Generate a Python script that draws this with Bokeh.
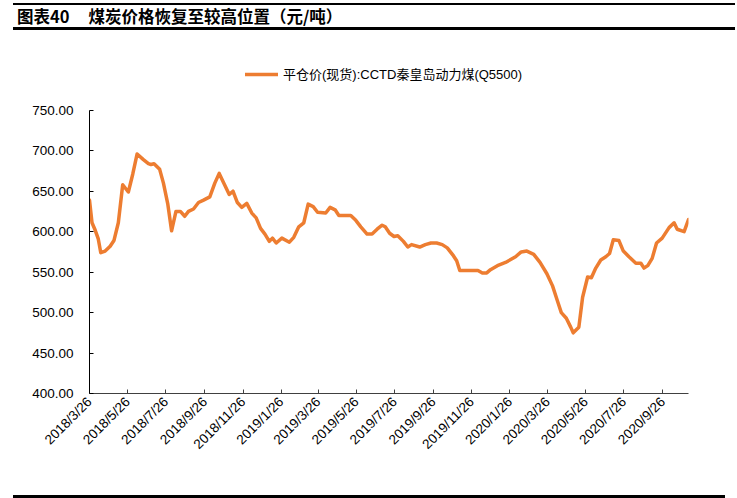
import pandas as pd
from bokeh.plotting import figure
from bokeh.layouts import column
from bokeh.models import (ColumnDataSource, Range1d, FixedTicker, NumeralTickFormatter,
                          Legend, LegendItem, Div)
from bokeh.embed import file_html
from bokeh.resources import INLINE

# texts
title_tag = "图表40"
title_text = "煤炭价格恢复至较高位置（元/吨）"
series_name = "平仓价(现货):CCTD秦皇岛动力煤(Q5500)"

# data
dates = [
    "2018-03-26", "2018-03-30", "2018-04-04", "2018-04-09", "2018-04-13", "2018-04-20",
    "2018-04-28", "2018-05-04", "2018-05-11", "2018-05-18", "2018-05-27", "2018-06-03",
    "2018-06-10", "2018-06-20", "2018-06-28", "2018-07-02", "2018-07-07", "2018-07-16",
    "2018-07-22", "2018-07-29", "2018-08-04", "2018-08-11", "2018-08-18", "2018-08-25",
    "2018-08-31", "2018-09-08", "2018-09-16", "2018-09-24", "2018-10-04", "2018-10-12",
    "2018-10-19", "2018-10-27", "2018-11-04", "2018-11-10", "2018-11-17", "2018-11-24",
    "2018-12-02", "2018-12-10", "2018-12-17", "2018-12-24", "2018-12-31", "2019-01-07",
    "2019-01-12", "2019-01-18", "2019-01-27", "2019-02-08", "2019-02-15", "2019-02-23",
    "2019-03-03", "2019-03-10", "2019-03-18", "2019-03-25", "2019-04-07", "2019-04-14",
    "2019-04-22", "2019-04-28", "2019-05-17", "2019-05-25", "2019-06-02", "2019-06-12",
    "2019-06-20", "2019-06-28", "2019-07-06", "2019-07-11", "2019-07-18", "2019-07-25",
    "2019-07-31", "2019-08-09", "2019-08-16", "2019-08-22", "2019-09-04", "2019-09-13",
    "2019-09-22", "2019-10-01", "2019-10-10", "2019-10-18", "2019-10-28", "2019-11-02",
    "2019-11-07", "2019-12-06", "2019-12-13", "2019-12-20", "2019-12-26", "2020-01-06",
    "2020-01-19", "2020-02-04", "2020-02-13", "2020-02-22", "2020-03-04", "2020-03-14",
    "2020-03-25", "2020-04-03", "2020-04-11", "2020-04-17", "2020-04-25", "2020-05-02",
    "2020-05-06", "2020-05-15", "2020-05-21", "2020-05-29", "2020-06-04", "2020-06-11",
    "2020-06-19", "2020-06-27", "2020-07-03", "2020-07-09", "2020-07-18", "2020-07-25",
    "2020-08-03", "2020-08-14", "2020-08-22", "2020-08-27", "2020-09-02", "2020-09-09",
    "2020-09-16", "2020-09-25", "2020-10-06", "2020-10-14", "2020-10-19", "2020-10-30",
    "2020-11-06",
]
prices = [
    639, 611, 602, 591, 574, 576,
    582, 589, 611, 658, 649, 671,
    696, 689, 684, 683, 684, 677,
    660, 634, 601, 625, 625, 619,
    625, 628, 636, 639, 643, 660,
    672, 659, 646, 650, 636, 630,
    635, 623, 617, 604, 597, 588,
    592, 586, 592, 587, 593, 606,
    611, 634, 631, 624, 623, 630,
    627, 620, 620, 614, 606, 597,
    597, 603, 608, 606, 598, 594,
    595, 588, 581, 584, 581, 584,
    586, 586, 584, 580, 570, 564,
    552, 552, 549, 549, 553, 558,
    562, 569, 575, 576, 572, 562,
    548, 533, 514, 500, 493, 482,
    475, 482, 519, 544, 543, 555,
    565, 569, 573, 590, 589, 576,
    569, 561, 561, 555, 558, 567,
    586, 592, 605, 611, 603, 600,
    615,
]

x_start = "2018-03-26"
x_end = "2020-11-06"
tick_dates = ["2018-03-26", "2018-05-26", "2018-07-26", "2018-09-26", "2018-11-26",
              "2019-01-26", "2019-03-26", "2019-05-26", "2019-07-26", "2019-09-26",
              "2019-11-26", "2020-01-26", "2020-03-26", "2020-05-26", "2020-07-26",
              "2020-09-26"]
tick_labels = ["2018/3/26", "2018/5/26", "2018/7/26", "2018/9/26", "2018/11/26",
               "2019/1/26", "2019/3/26", "2019/5/26", "2019/7/26", "2019/9/26",
               "2019/11/26", "2020/1/26", "2020/3/26", "2020/5/26", "2020/7/26",
               "2020/9/26"]
y_ticks = [400, 450, 500, 550, 600, 650, 700, 750]
y_min, y_max = 400, 750

LATIN = "Liberation Sans, Noto Sans CJK SC"
ORANGE = "#ED7D31"

source = ColumnDataSource(data=dict(date=pd.to_datetime(dates), price=prices))

# plot area runs a bit above 750 so the legend can sit inside it; the axis stops at 750
p = figure(width=737, height=455, x_axis_type="datetime",
           x_range=Range1d(pd.Timestamp(x_start), pd.Timestamp(x_end)),
           y_range=Range1d(y_min, 814),
           tools="", toolbar_location=None, output_backend="svg",
           min_border_left=89, min_border_right=49, min_border_top=27, min_border_bottom=93)
p.outline_line_color = None
p.xgrid.visible = False
p.ygrid.visible = False
p.background_fill_color = "white"

r = p.line("date", "price", source=source, line_color=ORANGE, line_width=3.5,
           line_join="round", line_cap="round")

# x axis: ticks on the 26th every two months
tick_ms = [float(pd.Timestamp(d).value // 10**6) for d in tick_dates]
p.xaxis.ticker = FixedTicker(ticks=tick_ms)
p.xaxis.major_label_overrides = dict(zip(tick_ms, tick_labels))
p.xaxis.major_label_orientation = 0.785398
p.xaxis.major_label_text_font = LATIN
p.xaxis.major_label_text_font_size = "13.5px"
p.xaxis.major_label_text_color = "black"
p.xaxis.major_label_standoff = 6
p.xaxis.axis_line_color = "#404040"
p.xaxis.major_tick_line_color = "#404040"
p.xaxis.major_tick_in = 4
p.xaxis.major_tick_out = 0
p.xaxis.minor_tick_line_color = None

# y axis
p.yaxis.ticker = FixedTicker(ticks=y_ticks)
p.yaxis.bounds = (y_min, y_max)
p.yaxis.formatter = NumeralTickFormatter(format="0.00")
p.yaxis.major_label_text_font = LATIN
p.yaxis.major_label_text_font_size = "13.5px"
p.yaxis.major_label_text_color = "black"
p.yaxis.major_label_standoff = 16
p.yaxis.axis_line_color = "black"
p.yaxis.major_tick_line_color = "black"
p.yaxis.major_tick_in = 4
p.yaxis.major_tick_out = 0
p.yaxis.minor_tick_line_color = None

# legend near the top of the plot area
legend = Legend(items=[LegendItem(label=series_name, renderers=[r])], location=(156, 310),
                padding=0, margin=0, spacing=0, border_line_color=None,
                background_fill_alpha=0, glyph_width=33, glyph_height=16,
                label_height=16, label_standoff=5,
                label_text_font=LATIN, label_text_font_size="13px",
                label_text_color="black")
p.add_layout(legend)

header = Div(text=(
    '<div style="margin:3px 0 0 13px;width:722px;height:27px;border-top:2px solid #000;'
    'border-bottom:3px solid #000;font-family:\'Noto Sans CJK SC\';'
    'font-weight:bold;font-size:16.5px;line-height:22px;color:#000;white-space:nowrap;">'
    f'<span style="margin-left:4px">{title_tag}</span>'
    f'<span style="margin-left:19px">{title_text}</span></div>'),
    width=737, height=31, margin=0)
footer = Div(text='<div style="margin-left:13px;width:712px;height:3px;background:#000;"></div>',
             width=737, height=3, margin=0)

layout = column(header, p, footer, spacing=0)
open("out.html", "w").write(file_html(layout, INLINE))
